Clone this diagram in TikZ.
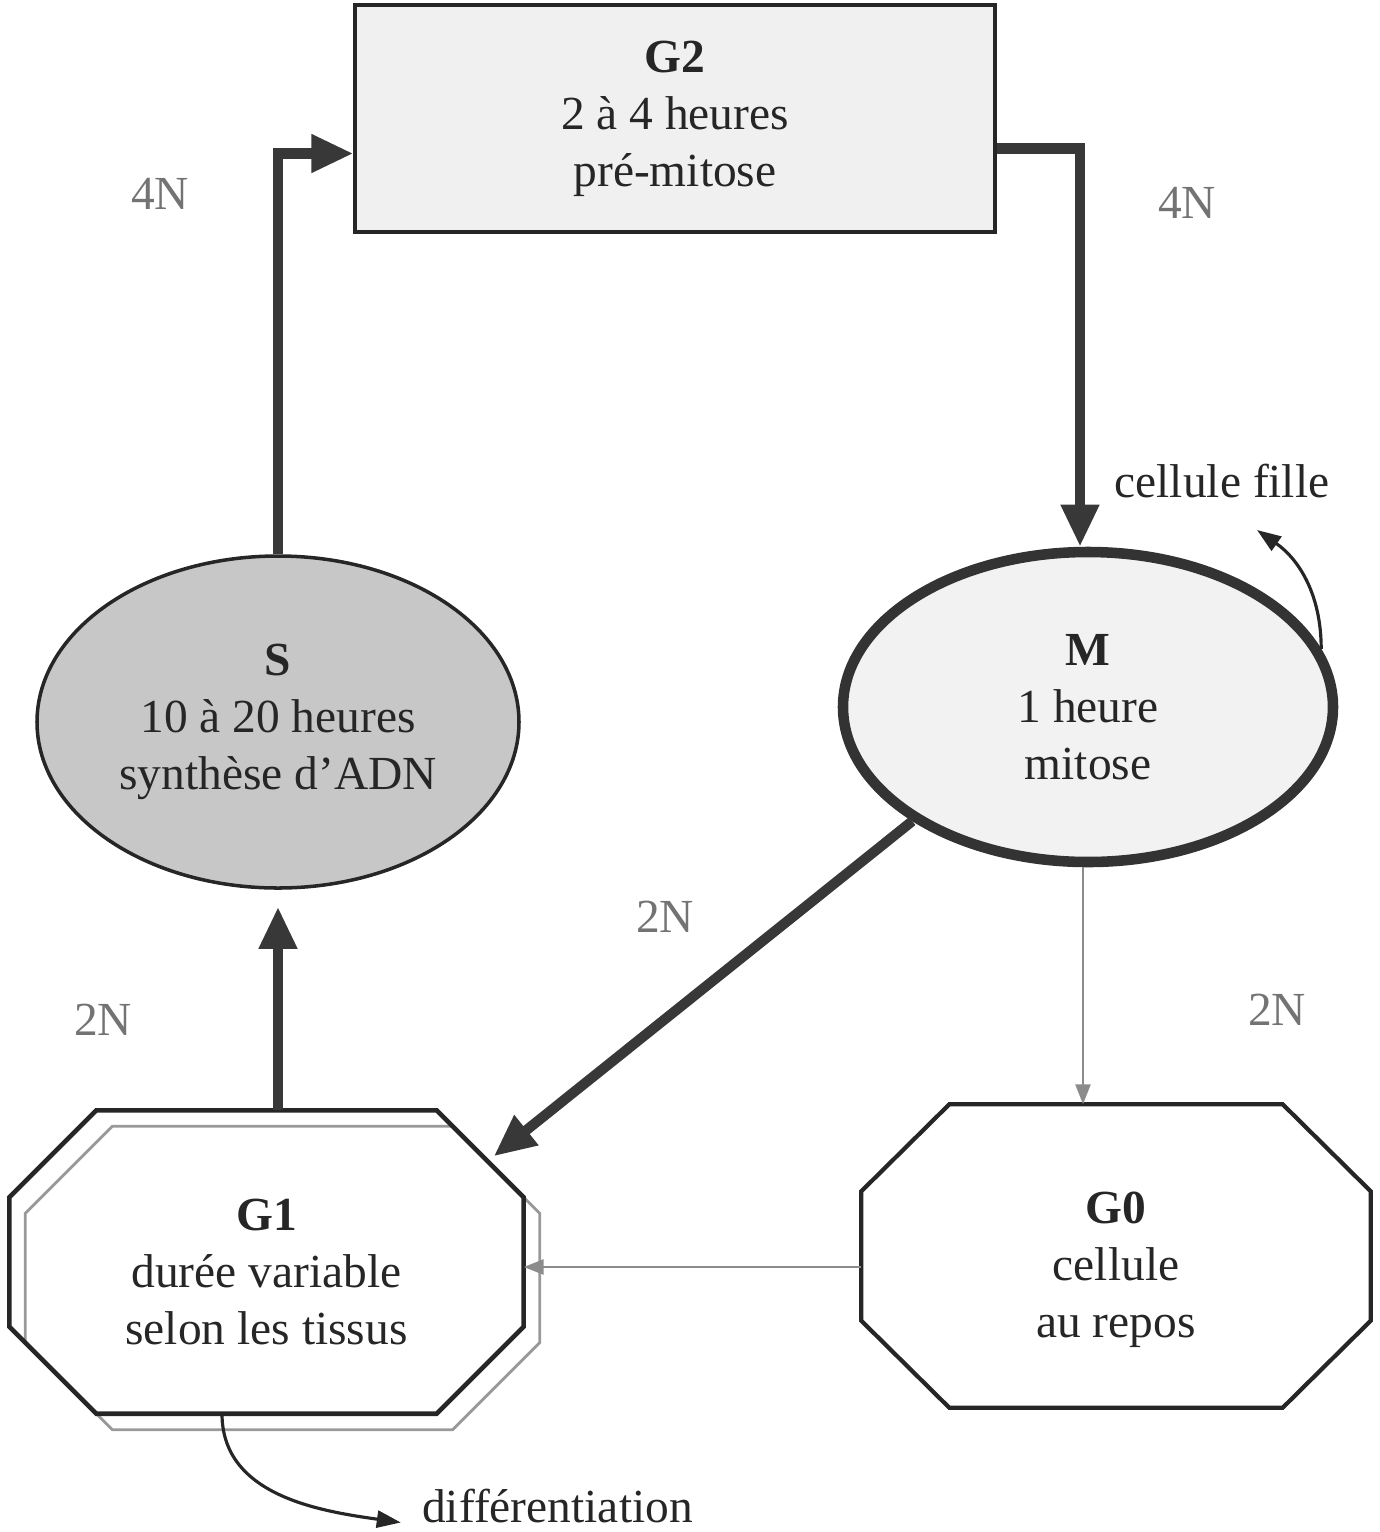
\documentclass[tikz,border=0pt]{standalone}
\usepackage{fontspec}
\setmainfont{Liberation Serif}
\usetikzlibrary{shapes.geometric, arrows.meta, positioning, calc}
\newcommand{\phasefont}{\fontsize{13.5}{16.2}\selectfont}

\begin{document}
\begin{tikzpicture}[
  phase/.style={draw=black!85, line width=1pt, align=center, font=\phasefont, text=black!85},
  octo/.style={minimum width=5.13cm, minimum height=3.02cm, inner sep=0pt},
  octotext/.style={align=center, font=\phasefont, text=black!85},
  bigarrow/.style={-{Triangle[width=0.36cm,length=0.42cm]}, line width=2.9pt, draw=black!78},
  thinarrow/.style={-{Triangle[width=0.15cm,length=0.2cm]}, line width=0.7pt, draw=black!45},
  curvearrow/.style={-{Triangle[width=0.17cm,length=0.24cm]}, line width=0.9pt, draw=black!85},
  ploidy/.style={font=\phasefont, text=black!55}
]
  \useasboundingbox (0,0) rectangle (13.79,-15.32);

  % phases
  \node[phase, rectangle, fill=black!6, line width=0.9pt, minimum width=6.4cm, minimum height=2.27cm] (g2) at (6.75,-1.185) {\textbf{G2}\\2 à 4 heures\\pré-mitose};
  \node[phase, ellipse, fill=black!22, minimum width=4.82cm, minimum height=3.32cm, inner sep=0pt] (s) at (2.78,-7.22) {\textbf{S}\\10 à 20 heures\\synthèse d’ADN};
  \node[phase, ellipse, fill=black!5, draw=black!80, line width=3pt, minimum width=4.9cm, minimum height=3.1cm, inner sep=0pt] (m) at (10.88,-7.07) {\textbf{M}\\1 heure\\mitose};
  \node[octo] (g1) at (2.665,-12.62) {};
  \node[octo, minimum width=5.08cm] (g0) at (11.16,-12.56) {};
  \node[octo] (g1shade) at ($(g1)+(0.16,-0.16)$) {};
  \node[octotext] (g1text) at ($(g1)+(0,-0.10)$) {\textbf{G1}\\durée variable\\selon les tissus};
  \node[octotext] (g0text) at ($(g0)+(0,-0.14)$) {\textbf{G0}\\cellule\\au repos};

  % octagon outlines
  \draw[black!40, line width=0.8pt] ($(g1shade.north west)+(0.87,0)$) -- ($(g1shade.north east)+(-0.87,0)$) -- ($(g1shade.north east)+(0,-0.87)$) -- ($(g1shade.south east)+(0,0.87)$) -- ($(g1shade.south east)+(-0.87,0)$) -- ($(g1shade.south west)+(0.87,0)$) -- ($(g1shade.south west)+(0,0.87)$) -- ($(g1shade.north west)+(0,-0.87)$) -- cycle;
  \draw[black!85, line width=1.3pt] ($(g1.north west)+(0.87,0)$) -- ($(g1.north east)+(-0.87,0)$) -- ($(g1.north east)+(0,-0.87)$) -- ($(g1.south east)+(0,0.87)$) -- ($(g1.south east)+(-0.87,0)$) -- ($(g1.south west)+(0.87,0)$) -- ($(g1.south west)+(0,0.87)$) -- ($(g1.north west)+(0,-0.87)$) -- cycle;
  \draw[black!85, line width=1.2pt] ($(g0.north west)+(0.88,0)$) -- ($(g0.north east)+(-0.88,0)$) -- ($(g0.north east)+(0,-0.87)$) -- ($(g0.south east)+(0,0.87)$) -- ($(g0.south east)+(-0.88,0)$) -- ($(g0.south west)+(0.88,0)$) -- ($(g0.south west)+(0,0.87)$) -- ($(g0.north west)+(0,-0.87)$) -- cycle;

  % labels
  \node[ploidy] (n4a) at (1.60,-1.935) {4N};
  \node[ploidy] (n4b) at (11.87,-2.03) {4N};
  \node[ploidy] (n2a) at (6.65,-9.17) {2N};
  \node[ploidy] (n2b) at (1.03,-10.20) {2N};
  \node[ploidy] (n2c) at (12.77,-10.10) {2N};
  \node[font=\phasefont, text=black!85] (fille) at (12.22,-4.81) {cellule fille};
  \node[font=\phasefont, text=black!85] (diff) at (5.575,-15.06) {différentiation};

  % cycle
  \coordinate (g1hit) at ($(g1.north east)+(-0.3,-0.46)$);
  \coordinate (g0in) at ([yshift=-0.11cm]g0.west);
  \coordinate (filletip) at (12.57,-5.30);
  \draw[bigarrow] (s.north) |- ([yshift=-0.35cm]g2.west);
  \draw[bigarrow] ([yshift=-0.3cm]g2.east) -| ([xshift=-0.08cm]m.north);
  \draw[bigarrow] (m.213) -- (g1hit);
  \draw[bigarrow] (g1.north -| s.south) -- ([yshift=-0.17cm]s.south);
  \draw[thinarrow] ([xshift=-0.05cm]m.south) -- ([xshift=-0.05cm]m.south |- g0.north);
  \draw[thinarrow] (g0in) -- (g0in -| g1.east);
  \draw[curvearrow] (m.14) to[out=90, in=-35] (filletip);
  \draw[curvearrow] ([xshift=-0.445cm]g1.south) to[out=-90, in=172] ([xshift=-0.09cm]diff.base west);
\end{tikzpicture}
\end{document}
